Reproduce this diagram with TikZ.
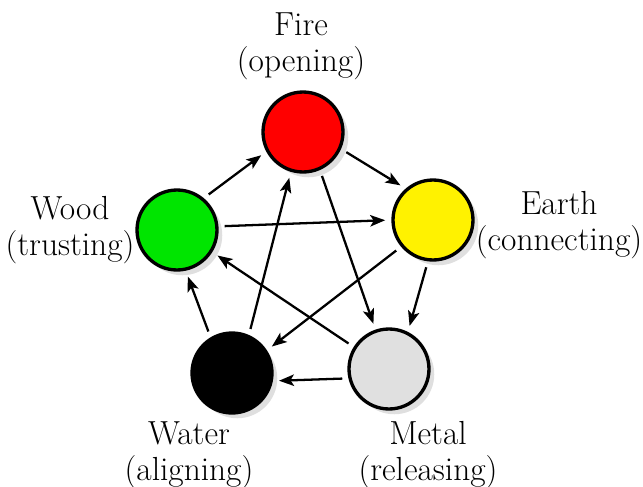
\documentclass[tikz,border=0pt]{standalone}
\usetikzlibrary{shadows,arrows.meta}
\begin{document}
\begin{tikzpicture}[x=0.02cm,y=-0.02cm,
        elem/.style={circle,draw,line width=1.9pt,minimum size=1.6cm,inner sep=0pt,
            drop shadow={opacity=0.25,shadow xshift=3pt,shadow yshift=-3pt}},
        lbl/.style={align=center,font=\fontsize{19}{20.5}\selectfont},
        flow/.style={-{Stealth[length=8.5pt,width=6.5pt,inset=2pt]},line width=1.3pt,
            shorten >=3.5pt,shorten <=3.5pt}]
            \useasboundingbox (0,0) rectangle (643,487);
            \node[elem,fill=red] (fire) at (303,132) {};
            \node[elem,fill=yellow] (earth) at (433,220) {};
            \node[elem,fill=green!90!black] (wood) at (177,230) {};
            \node[elem,fill=black] (water) at (232,373) {};
            \node[elem,fill=black!12] (metal) at (389,369) {};
            \node[lbl] (firetxt) at (301,46) {Fire\\(opening)};
            \node[lbl] (earthtxt) at (559,225) {Earth\\(connecting)};
            \node[lbl] (woodtxt) at (70,230) {Wood\\(trusting)};
            \node[lbl] (watertxt) at (189,455) {Water\\(aligning)};
            \node[lbl] (metaltxt) at (428,455) {Metal\\(releasing)};
            \draw[flow] (wood.50) to (fire.208);
            \draw[flow] (fire.336) to (earth.131);
            \draw[flow] (earth.263) to (metal.63);
            \draw[flow] (metal.193) to (water.349);
            \draw[flow] (water.121) to (wood.282);
            \draw[flow] (wood.5) to (earth.180);
            \draw[flow] (fire.294) to (metal.109);
            \draw[flow] (earth.220) to (water.33);
            \draw[flow] (metal.148) to (wood.328);
            \draw[flow] (water.66) to (fire.253);
        \end{tikzpicture}
\end{document}
